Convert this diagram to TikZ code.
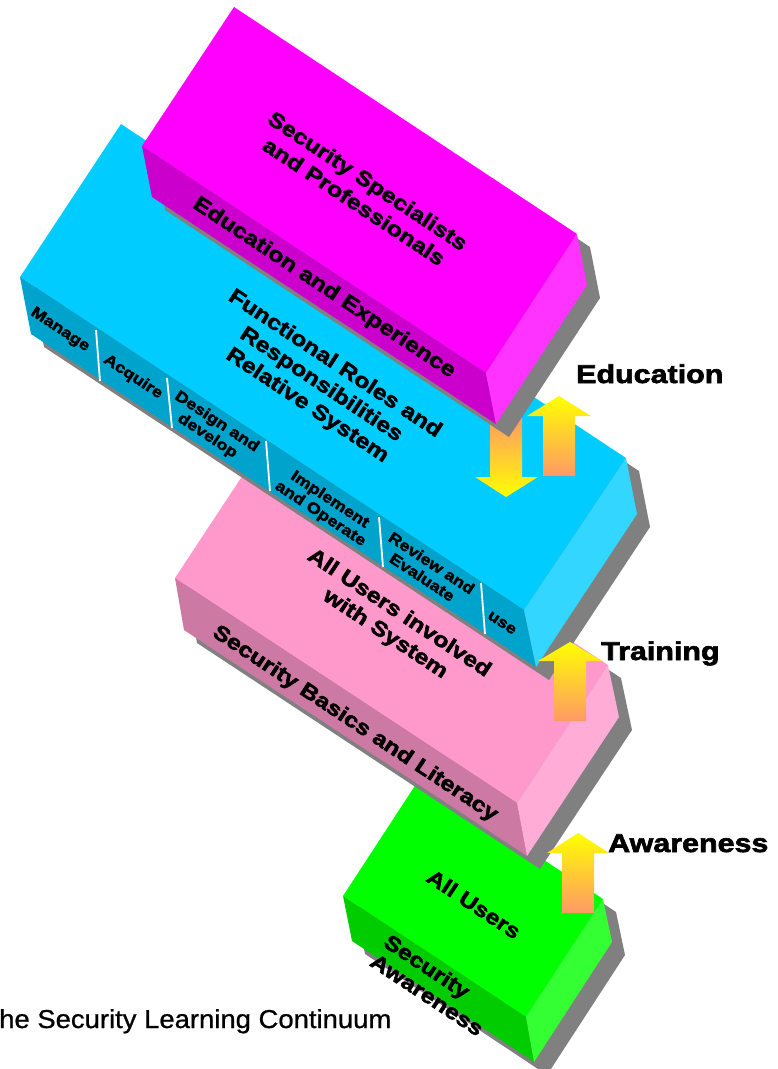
\documentclass[tikz,border=0pt]{standalone}
\usepackage{fontspec}
\setmainfont{Liberation Sans}
\newfontfamily\blk[FakeBold=2.4,FakeStretch=1.18]{Liberation Sans Bold}
\newfontfamily\capt[FakeBold=0.8,FakeStretch=1.06]{Liberation Sans}
\definecolor{sh}{HTML}{808080}
\definecolor{magT}{HTML}{FF00FF}\definecolor{magL}{HTML}{CC00CC}\definecolor{magR}{HTML}{FF33FF}
\definecolor{cyaT}{HTML}{00CCFF}\definecolor{cyaL}{HTML}{00A3CC}\definecolor{cyaR}{HTML}{33D6FF}
\definecolor{pinT}{HTML}{FF99CC}\definecolor{pinL}{HTML}{CC7AA3}\definecolor{pinR}{HTML}{FFADD6}
\definecolor{greT}{HTML}{00FF00}\definecolor{greL}{HTML}{00CC00}\definecolor{greR}{HTML}{33FF33}
\definecolor{arY}{HTML}{FFFF00}\definecolor{arO}{HTML}{FF9966}
\tikzset{
  lab/.style={inner sep=0pt,align=center,rotate=-33.5,text=black,font=\blk},
  big/.style={lab,font=\blk\fontsize{21}{25}\selectfont},
  mid/.style={lab,font=\blk\fontsize{21}{25}\selectfont},
  small/.style={lab,font=\blk\fontsize{15.3}{17}\selectfont},
  side/.style={inner sep=0pt,anchor=base west,font=\blk\fontsize{25.8}{28}\selectfont},
  divider/.style={white,line width=1.8pt},
  upar/.style={top color=arY,bottom color=arO,draw=none},
  downar/.style={top color=arO,bottom color=arY,draw=none}
}
\begin{document}
\begin{tikzpicture}[x=1pt,y=-1pt]
\clip (0,0) rectangle (778,1069);
\fill[white] (0,0) rectangle (778,1069);
% green block
\fill[sh,shift={(13,13)}] (420,778) -- (603,899) -- (612,942) -- (534,1062) -- (352,941) -- (343,896) -- cycle;
\fill[greT] (420,778) -- (603,899) -- (526,1017) -- (343,896) -- cycle;
\fill[greL] (343,896) -- (526,1017) -- (534,1062) -- (352,941) -- cycle;
\fill[greR] (603,899) -- (612,942) -- (534,1062) -- (526,1017) -- cycle;
% pink block
\fill[sh,shift={(13,13)}] (266,440) -- (608,665) -- (619,717) -- (527,856) -- (184,630) -- (175,578) -- cycle;
\fill[pinT] (266,440) -- (608,665) -- (517,803) -- (175,578) -- cycle;
\fill[pinL] (175,578) -- (517,803) -- (527,856) -- (184,630) -- cycle;
\fill[pinR] (608,665) -- (619,717) -- (527,856) -- (517,803) -- cycle;
% cyan block
\fill[sh,shift={(13,13)}] (121,124) -- (626,458) -- (637,514) -- (536,667) -- (31,334) -- (20,277) -- cycle;
\fill[cyaT] (121,124) -- (626,458) -- (524,610) -- (20,277) -- cycle;
\fill[cyaL] (20,277) -- (524,610) -- (536,667) -- (31,334) -- cycle;
\fill[cyaR] (626,458) -- (637,514) -- (536,667) -- (524,610) -- cycle;
\draw[divider] (96,330) -- (100,381);
\draw[divider] (167,378) -- (172,428);
\draw[divider] (266,441) -- (270,491);
\draw[divider] (379,517) -- (383,567);
\draw[divider] (481,583) -- (485,634);
% down arrow
\shade[downar] (490,417) -- (522,417) -- (522,477) -- (538,477) -- (506,497) -- (475,477) -- (490,477) -- cycle;
% magenta block
\fill[sh,shift={(13,13)}] (234,7) -- (577,234) -- (587,285) -- (496,424) -- (152,197) -- (142,146) -- cycle;
\fill[magT] (234,7) -- (577,234) -- (486,373) -- (142,146) -- cycle;
\fill[magL] (142,146) -- (486,373) -- (496,424) -- (152,197) -- cycle;
\fill[magR] (577,234) -- (587,285) -- (496,424) -- (486,373) -- cycle;
% up arrows
\shade[upar] (559,396) -- (591,416) -- (575,416) -- (575,476) -- (543,476) -- (543,416) -- (527,416) -- cycle;
\shade[upar] (570,642) -- (602,661) -- (586,661) -- (586,721) -- (554,721) -- (554,661) -- (538,661) -- cycle;
\shade[upar] (578,833) -- (609,853) -- (594,853) -- (594,913) -- (562,913) -- (562,853) -- (547,853) -- cycle;
% texts
\node[big] (spec) at (361,191) {Security Specialists\\and Professionals};
\node[mid] (edu) at (324,288) {Education and Experience};
\node[big] (func) at (321,385) {Functional Roles and\\Responsibilities\\Relative System};
\node[small] (manage) at (60,330) {Manage};
\node[small] (acq) at (133,377) {Acquire};
\node[small] (design) at (212,429) {Design and\\develop};
\node[small] (impl) at (325,507) {Implement\\and Operate};
\node[small] (review) at (427,570) {Review and\\Evaluate};
\node[small] (use) at (502,623) {use};
\node[big] (allinv) at (392,624) {All Users involved\\with System};
\node[mid] (basics) at (355,724) {Security Basics and Literacy};
\node[mid] (allu) at (474,904) {All Users};
\node[mid] (sec) at (426,968) {Security};
\node[mid] (aware) at (427,995) {Awareness};
\node[side] (ledu) at (576,383) {Education};
\node[side] (ltra) at (601,660) {Training};
\node[side] (lawa) at (608,852) {Awareness};
\node[inner sep=0pt,anchor=base west,font=\capt\fontsize{25.9}{28}\selectfont] (cap) at (-1,1028) {he Security Learning Continuum};
\end{tikzpicture}
\end{document}
